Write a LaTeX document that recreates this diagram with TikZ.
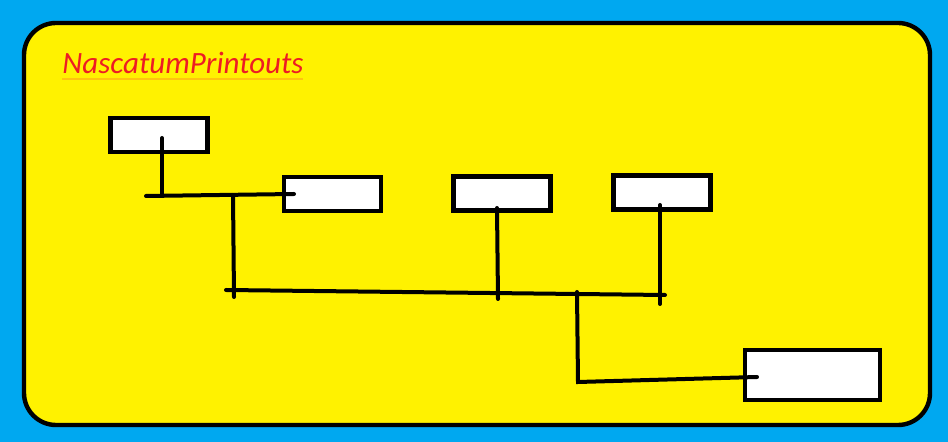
\documentclass[tikz,border=0pt]{standalone}
\usepackage{fontspec}
\setmainfont{Carlito}
\usetikzlibrary{positioning}
\definecolor{skyblue}{RGB}{0,168,240}
\definecolor{lemon}{RGB}{255,242,0}
\definecolor{titlered}{RGB}{237,28,36}
\definecolor{titlegold}{RGB}{255,196,14}
\tikzset{unit box/.style={rectangle,draw=black,fill=white,line width=2.2pt,inner sep=0pt},
         small box/.style={unit box,minimum width=48.5pt,minimum height=17pt},
         big box/.style={unit box,minimum width=67.5pt,minimum height=25pt},
         wire/.style={line width=2pt,line cap=round}
}
\begin{document}
\begin{tikzpicture}[x=0.5pt,y=-0.5pt]
\useasboundingbox (0,0) rectangle (948,442);
\fill[skyblue] (0,0) rectangle (948,442);
\draw[line width=2.2pt,fill=lemon,rounded corners=16pt] (24,23) rectangle (930,425);
% title
\node[anchor=base west,inner sep=0pt,text=titlered,font=\itshape\fontsize{15.5}{18}\selectfont] (title) at (62,74) {NascatumPrintouts};
\draw[titlegold,line width=1pt] (62,79) -- (303,79);
% boxes
\node[small box] (b1) at (159,135) {};
\node[small box] (b2) at (332.5,194) {};
\node[small box] (b3) at (502,193.5) {};
\node[small box] (b4) at (662,192.5) {};
\node[big box] (b5) at (812.5,375) {};
% junctions
\coordinate (j1) at (162,196);
\coordinate (l1) at (146,196);
\coordinate (e2) at (294,194);
\coordinate (j2) at (233,195);
\coordinate (j2d) at (234,297);
\coordinate (l2) at (226,290);
\coordinate (r2) at (665,295);
\coordinate (j3) at (498,299);
\coordinate (j4) at (660,304);
\coordinate (j5) at (577,292);
\coordinate (j5d) at (578,382);
\coordinate (e5) at (757,377);
% wires
\draw[wire] (162,138) -- (j1);
\draw[wire] (l1) -- (e2);
\draw[wire] (j2) -- (j2d);
\draw[wire] (l2) -- (r2);
\draw[wire] (497,208) -- (j3);
\draw[wire] (660,205) -- (j4);
\draw[wire] (j5) -- (j5d) -- (e5);
\end{tikzpicture}
\end{document}
